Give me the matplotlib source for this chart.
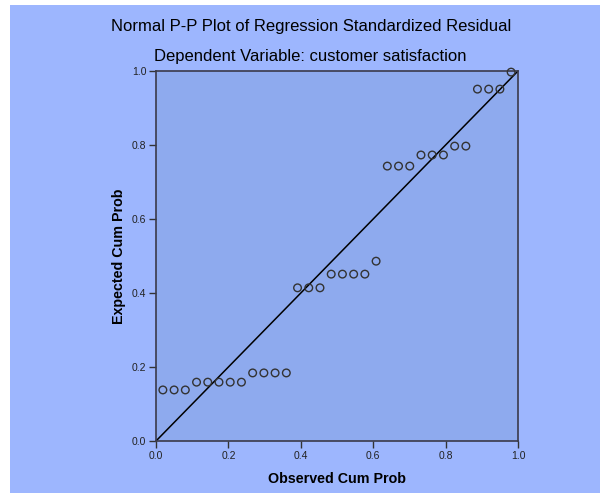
import matplotlib
matplotlib.use('Agg')
import matplotlib.pyplot as plt
from matplotlib.patches import Rectangle

# Observed vs expected cumulative probabilities
observed = [0.019, 0.050, 0.081, 0.112, 0.143, 0.174, 0.205, 0.236,
            0.267, 0.298, 0.329, 0.360, 0.391, 0.422, 0.453, 0.484,
            0.515, 0.546, 0.577, 0.608, 0.639, 0.670, 0.701, 0.732,
            0.763, 0.794, 0.825, 0.856, 0.888, 0.919, 0.950, 0.981]
expected = [0.138, 0.138, 0.138, 0.159, 0.159, 0.159, 0.159, 0.159,
            0.184, 0.184, 0.184, 0.184, 0.414, 0.414, 0.414, 0.451,
            0.451, 0.451, 0.451, 0.486, 0.743, 0.743, 0.743, 0.773,
            0.773, 0.773, 0.797, 0.797, 0.951, 0.951, 0.951, 0.997]
ticks = [0.0, 0.2, 0.4, 0.6, 0.8, 1.0]
tick_labels = ['0.0', '0.2', '0.4', '0.6', '0.8', '1.0']

plt.rcParams['font.family'] = ['Liberation Sans', 'DejaVu Sans']

W, H = 600, 493
fig = plt.figure(figsize=(W / 100, H / 100), dpi=100)
fig.patch.set_facecolor('white')
# coloured chart background, with a thin white strip left and top
fig.patches.append(Rectangle((10 / W, 0), 1 - 10 / W, 1 - 5 / H,
                             transform=fig.transFigure, facecolor='#9db6fe',
                             edgecolor='none', zorder=-10))

ax = fig.add_axes([156 / W, 52 / H, 362 / W, 370 / H])
ax.set_facecolor('#8eaaee')

ax.plot([0, 1], [0, 1], color='black', lw=1.1, zorder=2)
ax.scatter(observed, expected, s=30, facecolors='none', edgecolors='#333333',
           linewidths=1.0, zorder=3, clip_on=False)

ax.set_xlim(0, 1)
ax.set_ylim(0, 1)
ax.set_xticks(ticks)
ax.set_xticklabels(tick_labels)
ax.set_yticks(ticks)
ax.set_yticklabels(tick_labels)
ax.tick_params(direction='out', length=5, width=1, color='#333333',
               labelsize=7.5, labelcolor='#222222', pad=2)
for s in ax.spines.values():
    s.set_color('#3a3a4a')
    s.set_linewidth(1.2)

fig.text(311 / W, 1 - 26 / H, 'Normal P-P Plot of Regression Standardized Residual',
         ha='center', va='center', fontsize=12, color='black')
fig.text(310 / W, 1 - 56 / H, 'Dependent Variable: customer satisfaction',
         ha='center', va='center', fontsize=12, color='black')
fig.text(337 / W, 1 - 479 / H, 'Observed Cum Prob', ha='center', va='center',
         fontsize=10.3, fontweight='bold', color='black')
fig.text(119 / W, 1 - 256 / H, 'Expected Cum Prob', ha='center', va='center',
         rotation=90, fontsize=10.3, fontweight='bold', color='black')

fig.savefig('out.png', dpi=100, facecolor=fig.get_facecolor())
